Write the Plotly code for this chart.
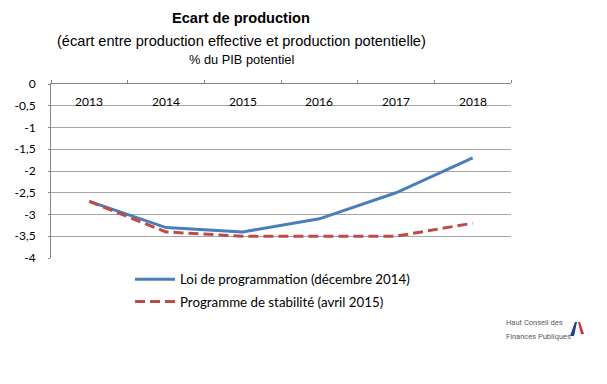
import plotly.graph_objects as go

years = ["2013", "2014", "2015", "2016", "2017", "2018"]
loi_prog = [-2.7, -3.3, -3.4, -3.1, -2.5, -1.7]
prog_stab = [-2.7, -3.4, -3.5, -3.5, -3.5, -3.2]
y_ticks = [0, -0.5, -1, -1.5, -2, -2.5, -3, -3.5, -4]
y_labels = ["0", "-0,5", "-1", "-1,5", "-2", "-2,5", "-3", "-3,5", "-4"]

# page body has an 8px default margin: figure is drawn 8px in from the top-left
OFF = 8
L, R, T, B = 51, 511, 84, 258      # plot area in window pixels
W, H = 607 - OFF, 384 - OFF

def px(x):
    return (x - L) / (R - L)

def py(y):
    return (B - y) / (B - T)

fig = go.Figure()
fig.add_trace(go.Scatter(x=years, y=loi_prog, mode="lines",
                         name="Loi de programmation (décembre 2014)",
                         line=dict(color="#4a7ebb", width=3), legendgroup="a"))
fig.add_trace(go.Scatter(x=years, y=prog_stab, mode="lines",
                         name="Programme de stabilité (avril 2015)",
                         line=dict(color="#be4b48", width=3, dash="10px,5px"), legendgroup="b"))

fig.update_layout(
    width=W, height=H,
    margin=dict(l=L - OFF, r=W - (R - OFF), t=T - OFF, b=H - (B - OFF), autoexpand=False),
    paper_bgcolor="white", plot_bgcolor="white",
    separators=", ",
    font=dict(family="Lato, Carlito, Calibri, sans-serif", size=13, color="#000000"),
    showlegend=True,
    legend=dict(x=px(130), y=py(264), xanchor="left", yanchor="top",
                traceorder="grouped", tracegroupgap=2, itemwidth=40,
                font=dict(size=13.3, family="Lato, sans-serif"), bgcolor="rgba(0,0,0,0)"),
    xaxis=dict(type="category", side="top", range=[-0.5, 5.5], showticklabels=False,
               tickson="boundaries", ticks="outside", ticklen=3, tickcolor="#868686",
               showline=True, linecolor="#868686", linewidth=1, showgrid=False,
               automargin=False, fixedrange=True),
    yaxis=dict(range=[-4, 0], tickvals=y_ticks, ticktext=y_labels,
               ticks="outside", ticklen=2, tickcolor="#868686", ticklabelstandoff=10,
               showline=True, linecolor="#868686", linewidth=1, automargin=False,
               showgrid=True, gridcolor="#a6a6a6", gridwidth=1, zeroline=False,
               tickfont=dict(size=12, family="Lato, sans-serif")),
)

for i, yr in enumerate(years):
    fig.add_annotation(text=yr, x=i, xref="x", y=py(101), yref="paper", showarrow=False,
                       xanchor="center", yanchor="middle",
                       font=dict(size=12, family="Lato, sans-serif"))

ann_font = "Liberation Sans, Arial, sans-serif"
fig.add_annotation(text="<b>Ecart de production</b>", x=px(241), y=py(18), xref="paper", yref="paper",
                   showarrow=False, font=dict(family=ann_font, size=14.6), xanchor="center", yanchor="middle")
fig.add_annotation(text="(écart entre production effective et production potentielle)", x=px(241), y=py(41),
                   xref="paper", yref="paper", showarrow=False, font=dict(family=ann_font, size=14.6),
                   xanchor="center", yanchor="middle")
fig.add_annotation(text="% du PIB potentiel", x=px(241), y=py(60), xref="paper", yref="paper",
                   showarrow=False, font=dict(family=ann_font, size=12.8), xanchor="center", yanchor="middle")
logo_font = dict(family="Roboto, Liberation Sans, sans-serif", size=7.5, color="#595959")
fig.add_annotation(text="Haut Conseil des", x=px(504), y=py(322), xref="paper", yref="paper",
                   showarrow=False, xanchor="left", yanchor="middle", font=logo_font)
fig.add_annotation(text="Finances Publiques", x=px(504), y=py(336), xref="paper", yref="paper",
                   showarrow=False, xanchor="left", yanchor="middle", font=logo_font)
# flag mark
fig.add_shape(type="path", xref="paper", yref="paper",
              path=f"M {px(570)} {py(336)} L {px(574)} {py(336)} L {px(577)} {py(322)} L {px(575)} {py(322)} Z",
              fillcolor="#1f3f8f", line=dict(width=0))
fig.add_shape(type="path", xref="paper", yref="paper",
              path=f"M {px(578)} {py(322)} L {px(580)} {py(322)} L {px(584)} {py(334)} L {px(581)} {py(334)} Z",
              fillcolor="#d6263a", line=dict(width=0))

fig.write_html("out.html")
